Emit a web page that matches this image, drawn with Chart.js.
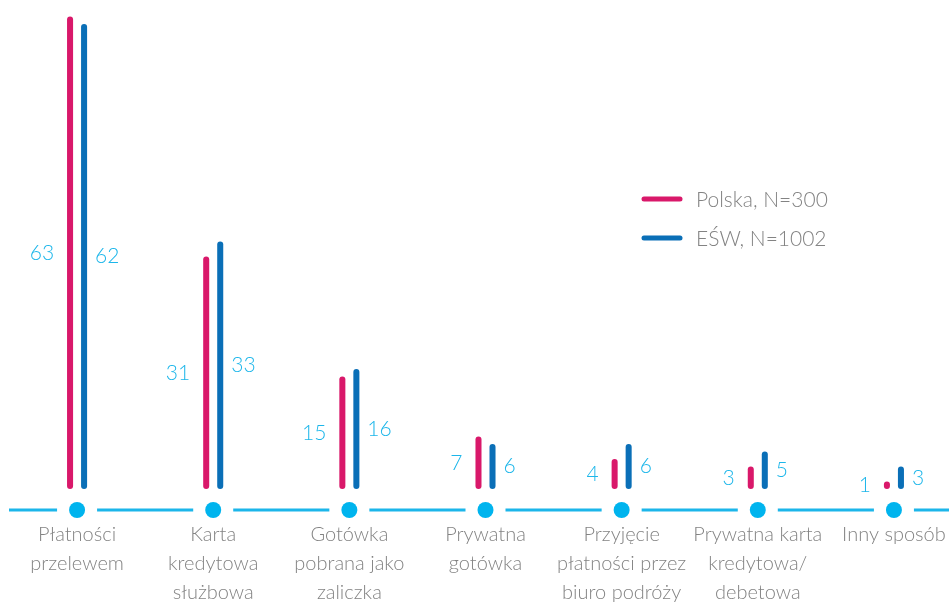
<!DOCTYPE html>
<html lang="pl">
<head>
<meta charset="utf-8">
<title>Sposób płatności</title>
<script src="https://cdn.jsdelivr.net/npm/chart.js@4.4.1/dist/chart.umd.min.js"></script>
<style>
    html, body { margin: 0; padding: 0; background: #fff; }
    #wrap { width: 949px; height: 603px; overflow: hidden; position: relative; }
    canvas { display: block; }
</style>
</head>
<body>
<div id="wrap"><canvas id="chartPlatnosci" width="970" height="603"></canvas></div>
<script>
// ─────────────────────────────────────────────────────────────────────────────
// DANE
// ─────────────────────────────────────────────────────────────────────────────
const kategorie = [
    ['Płatności', 'przelewem'],
    ['Karta', 'kredytowa', 'służbowa'],
    ['Gotówka', 'pobrana jako', 'zaliczka'],
    ['Prywatna', 'gotówka'],
    ['Przyjęcie', 'płatności przez', 'biuro podróży'],
    ['Prywatna karta', 'kredytowa/', 'debetowa'],
    ['Inny sposób']
];
const seriaPolska = [63, 31, 15, 7, 4, 3, 1];
const seriaEsw    = [62, 33, 16, 6, 6, 5, 3];
const nazwySerii  = ['Polska, N=300', 'EŚW, N=1002'];

const ROZOWY    = '#d9186a';
const NIEBIESKI = '#0a6fb7';
const JASNY     = '#1cb6ea';
const SZARY     = '#838383';
const FONT      = 'Lato, "Open Sans", sans-serif';

const OS_MIN = -2.8;   // linia bazowa z kropkami leży nieco pod zerem
const OS_MAX = 64.8;

// ─────────────────────────────────────────────────────────────────────────────
// PLUGIN — linia bazowa, kropki, wartości, legenda
// ─────────────────────────────────────────────────────────────────────────────
const dekoracje = {
    id: 'dekoracje',
    beforeDatasetsDraw(chart) {
        const { ctx, chartArea, scales: { x, y } } = chart;
        const yb = y.getPixelForValue(OS_MIN);
        const kropki = kategorie.map((_, i) => x.getPixelForTick(i));

        ctx.save();
        ctx.strokeStyle = JASNY;
        ctx.lineWidth = 3;
        let start = chartArea.left;
        kropki.forEach(function (cx) {
            ctx.beginPath();
            ctx.moveTo(start, yb);
            ctx.lineTo(cx - 20, yb);
            ctx.stroke();
            start = cx + 20;
        });
        ctx.beginPath();
        ctx.moveTo(start, yb);
        ctx.lineTo(chart.width, yb);
        ctx.stroke();

        ctx.fillStyle = '#00b4ee';
        kropki.forEach(function (cx) {
            ctx.beginPath();
            ctx.arc(cx, yb, 8, 0, Math.PI * 2);
            ctx.fill();
        });
        ctx.restore();
    },
    afterDatasetsDraw(chart) {
        const { ctx } = chart;
        ctx.save();
        ctx.font = '300 21px ' + FONT;
        ctx.fillStyle = JASNY;
        ctx.textBaseline = 'middle';

        chart.getDatasetMeta(0).data.forEach(function (bar, i) {
            ctx.textAlign = 'right';
            ctx.fillText(String(seriaPolska[i]), bar.x - 16, (bar.y + bar.base) / 2);
        });
        chart.getDatasetMeta(1).data.forEach(function (bar, i) {
            ctx.textAlign = 'left';
            ctx.fillText(String(seriaEsw[i]), bar.x + 11, (bar.y + bar.base) / 2);
        });

        // legenda
        const kolory = [ROZOWY, NIEBIESKI];
        ctx.font = '300 21px ' + FONT;
        ctx.textAlign = 'left';
        ctx.lineCap = 'round';
        ctx.lineWidth = 5;
        nazwySerii.forEach(function (nazwa, i) {
            const ly = 199 + i * 39;
            ctx.strokeStyle = kolory[i];
            ctx.beginPath();
            ctx.moveTo(644, ly);
            ctx.lineTo(680, ly);
            ctx.stroke();
            ctx.fillStyle = SZARY;
            ctx.fillText(nazwa, 696, ly + 1);
        });
        ctx.restore();
    }
};

// ─────────────────────────────────────────────────────────────────────────────
// WYKRES
// ─────────────────────────────────────────────────────────────────────────────
const wspolne = {
    categoryPercentage: 0.206,
    barPercentage: 0.43,
    borderRadius: 3,
    borderSkipped: false
};

new Chart(document.getElementById('chartPlatnosci'), {
    type: 'bar',
    data: {
        labels: kategorie,
        datasets: [
            Object.assign({ label: nazwySerii[0], data: seriaPolska, backgroundColor: ROZOWY }, wspolne),
            Object.assign({ label: nazwySerii[1], data: seriaEsw, backgroundColor: NIEBIESKI }, wspolne)
        ]
    },
    options: {
        responsive: false,
        animation: false,
        devicePixelRatio: 1,
        layout: { padding: { left: 9, right: 8, top: 3, bottom: 0 } },
        plugins: {
            legend: { display: false },
            tooltip: { enabled: false }
        },
        scales: {
            x: {
                grid: { display: false, drawTicks: false },
                border: { display: false },
                ticks: {
                    autoSkip: false,
                    maxRotation: 0,
                    padding: 10,
                    color: SZARY,
                    font: { family: FONT, size: 20, weight: '300', lineHeight: 1.45 }
                },
                afterFit: function (scale) { scale.height = 93; }
            },
            y: {
                display: false,
                min: OS_MIN,
                max: OS_MAX
            }
        }
    },
    plugins: [dekoracje]
});
</script>
</body>
</html>
